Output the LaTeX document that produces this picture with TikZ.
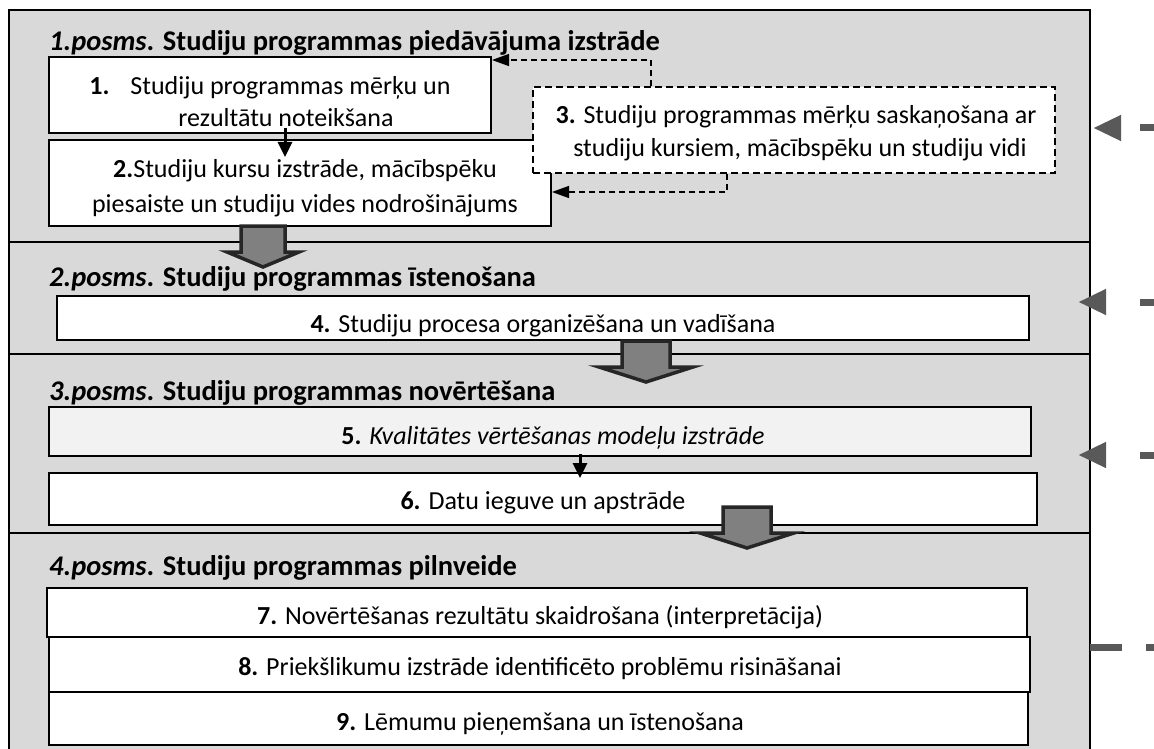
\documentclass[tikz,border=0pt]{standalone}
\usepackage{fontspec}
\setmainfont{Carlito}
\usetikzlibrary{arrows.meta,fit,calc}
\definecolor{stagegray}{HTML}{D9D9D9}
\definecolor{boxfivegray}{HTML}{F2F2F2}
\definecolor{blockfill}{HTML}{808080}
\definecolor{blockline}{HTML}{262626}
\definecolor{fbgray}{HTML}{595959}
\tikzset{
  stage/.style={draw=black, line width=1.5pt, fill=stagegray, inner sep=0pt},
  wbox/.style={draw=black, line width=2pt, fill=white, inner sep=0pt},
  dbox/.style={wbox, line width=1.5pt, dash pattern=on 7pt off 4pt},
  lbl/.style={anchor=base, inner sep=0pt, font=\fontsize{26}{31}\selectfont},
  ttl/.style={anchor=base west, inner sep=0pt, font=\bfseries\fontsize{28.5}{34}\selectfont},
  dconn/.style={draw=black, line width=1.5pt, dash pattern=on 6pt off 4pt, -{Triangle[length=17pt,width=12pt]}},
  sarrow/.style={draw=black, line width=3pt, -{Triangle[length=15pt,width=14pt]}},
  blk/.style={fill=blockfill, draw=blockline, line width=3.5pt, line join=miter},
  fb/.style={draw=fbgray, line width=7pt, dash pattern=on 32pt off 40pt, -{Triangle[length=28pt,width=24pt]}},
  fbline/.style={draw=fbgray, line width=7pt, dash pattern=on 32pt off 24pt},
  blockarrow/.pic={\draw[blk] (-24,0) -- (24,0) -- (24,26) -- (47,26) -- (0,41) -- (-47,26) -- (-24,26) -- cycle;},
  narrowarrow/.pic={\draw[blk] (-22,0) -- (22,0) -- (22,26) -- (36,26) -- (0,41) -- (-36,26) -- (-22,26) -- cycle;}
}
\begin{document}
\begin{tikzpicture}[x=1pt,y=-1pt]
\useasboundingbox (0,0) rectangle (1154,749);
\clip (0,0) rectangle (1154,749);
\fill[white] (0,0) rectangle (1154,749);

% stages
\node[stage, fit={(9,10) (1090,242)}] (p1) {};
\node[stage, fit={(9,242) (1090,354)}] (p2) {};
\node[stage, fit={(9,354) (1090,533)}] (p3) {};
\node[stage, fit={(9,533) (1090,780)}] (p4) {};

% titles
\node[ttl] (h1) at (49,51) {\textit{1.posms}. Studiju programmas piedāvājuma izstrāde};
\node[ttl] (h2) at (49,286) {\textit{2.posms}. Studiju programmas īstenošana};
\node[ttl] (h3) at (49,400) {\textit{3.posms}. Studiju programmas novērtēšana};
\node[ttl] (h4) at (49,575) {\textit{4.posms}. Studiju programmas pilnveide};

% boxes
\node[wbox, fit={(49,57) (491,133)}] (b1) {};
\node[wbox, fit={(49,140) (551,226)}] (b2) {};
\node[dbox, fit={(533,87) (1055,173)}] (b3) {};
\node[wbox, fit={(57,296) (1029,340)}] (b4) {};
\node[wbox, fill=boxfivegray, fit={(49,407) (1031,456)}] (b5) {};
\node[wbox, fit={(49,473) (1037,525)}] (b6) {};
\node[wbox, fit={(47,588) (1027,637)}] (b7) {};
\node[wbox, fit={(49,637) (1030,692)}] (b8) {};
\node[wbox, fit={(49,692) (1028,745)}] (b9) {};

% texts
\node[lbl] (t1a) at (270,95) {\textbf{1.}\hspace{0.8em}Studiju programmas mērķu un};
\node[lbl] (t1b) at (286,127) {rezultātu noteikšana};
\node[lbl] (t2a) at (305,177) {\textbf{2.}Studiju kursu izstrāde, mācībspēku};
\node[lbl] (t2b) at (305,212) {piesaiste un studiju vides nodrošinājums};
\node[lbl] (t3a) at (796,124) {\textbf{3.} Studiju programmas mērķu saskaņošana ar};
\node[lbl] (t3b) at (800,157) {studiju kursiem, mācībspēku un studiju vidi};
\node[lbl] (t4) at (543,332) {\textbf{4.} Studiju procesa organizēšana un vadīšana};
\node[lbl] (t5) at (553,444) {\textbf{5.} \textit{Kvalitātes vērtēšanas modeļu izstrāde}};
\node[lbl] (t6) at (543,509) {\textbf{6.} Datu ieguve un apstrāde};
\node[lbl] (t7) at (540,624) {\textbf{7.} Novērtēšanas rezultātu skaidrošana (interpretācija)};
\node[lbl] (t8) at (540,675) {\textbf{8.} Priekšlikumu izstrāde identificēto problēmu risināšanai};
\node[lbl] (t9) at (540,730) {\textbf{9.} Lēmumu pieņemšana un īstenošana};

% block arrows between stages
\pic (ba1) at (263,226) {narrowarrow};
\pic (ba2) at (646,341) {blockarrow};
\pic (ba3) at (747,507) {blockarrow};

% solid arrows
\coordinate (s1) at (285,0);
\coordinate (s2) at (580,0);
\draw[sarrow] ($(b1.south -| s1)+(0,-6)$) -- ($(b2.north -| s1)+(0,18)$);
\draw[sarrow] ($(b5.south -| s2)+(0,-3)$) -- ($(b6.north -| s2)+(0,6)$);

% dashed connectors from box 3
\coordinate (k1) at (651,60);
\coordinate (k2) at (727,192);
\draw[dconn] (b3.north -| k1) -- (k1) -- (b1.east |- k1);
\draw[dconn] (b3.south -| k2) -- (k2) -- (b2.east |- k2);

% feedback arrows at right
\coordinate (f1s) at (1172,128);
\coordinate (f1e) at (1093,128);
\coordinate (f2s) at (1172,302);
\coordinate (f2e) at (1078,302);
\coordinate (f3s) at (1172,455);
\coordinate (f3e) at (1078,455);
\coordinate (f4s) at (1090,647);
\coordinate (f4e) at (1200,647);
\draw[fb] (f1s) -- (f1e);
\draw[fb] (f2s) -- (f2e);
\draw[fb] (f3s) -- (f3e);
\draw[fbline] (f4s) -- (f4e);
\end{tikzpicture}
\end{document}
